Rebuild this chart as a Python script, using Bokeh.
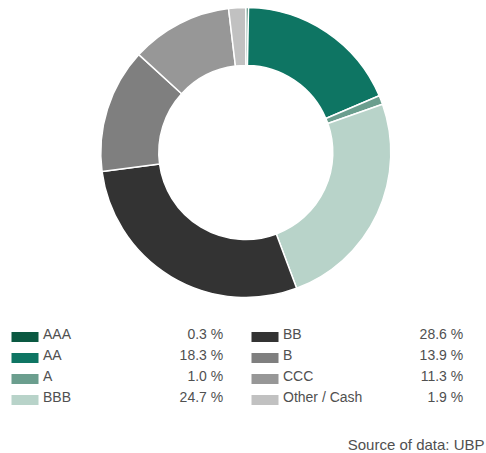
import math
from bokeh.plotting import figure
from bokeh.models import Range1d, ColumnDataSource
from bokeh.core.properties import value
from bokeh.embed import file_html
from bokeh.resources import INLINE

# ---- data ----
categories = ["AAA", "AA", "A", "BBB", "BB", "B", "CCC", "Other / Cash"]
shares = [0.3, 18.3, 1.0, 24.7, 28.6, 13.9, 11.3, 1.9]
colors = ["#0a5841", "#0e7563", "#6b9e8e", "#b8d3c9",
          "#333333", "#7f7f7f", "#979797", "#c1c1c1"]
source_note = "Source of data: UBP"

W, H = 486, 453
FONT = "Liberation Sans"
TXT = "#505050"

def ry(y):
    return H - y

p = figure(width=W, height=H, output_backend="svg", toolbar_location=None,
           x_range=Range1d(0, W), y_range=Range1d(0, H),
           min_border=0, outline_line_color=None)
p.axis.visible = False
p.grid.visible = False
p.background_fill_color = "white"

# ---- donut ----
total = sum(shares)
starts, ends = [], []
cum = 0.0
for v in shares:
    starts.append(math.pi / 2 - cum / total * 2 * math.pi)
    cum += v
    ends.append(math.pi / 2 - cum / total * 2 * math.pi)

src = ColumnDataSource(dict(start=starts, end=ends, color=colors))
p.annular_wedge(x=245.3, y=ry(152), inner_radius=87, outer_radius=145,
                start_angle="start", end_angle="end", direction="clock",
                inner_radius_units="screen", outer_radius_units="screen",
                fill_color="color", line_color="white", line_width=1.5,
                source=src)

# ---- legend ----
sw_x, sw_y = [], []
lx, ly, lt = [], [], []
vx, vy, vt = [], [], []
for i, (c, v) in enumerate(zip(categories, shares)):
    col, row = divmod(i, 4)
    x0 = 11 + col * 240
    mid = 333 + row * 21
    sw_x.append(x0 + 13.5)
    sw_y.append(ry(mid + 3.5))
    lx.append(x0 + 31.5)
    ly.append(ry(mid))
    lt.append(c)
    vx.append(x0 + 211.7)
    vy.append(ry(mid))
    vt.append(f"{v:.1f} %")

p.rect(x=sw_x, y=sw_y, width=27, height=10, fill_color=colors, line_color=None)
p.text(x=lx, y=ly, text=lt, text_font=value(FONT), text_font_size="14px",
       text_color=TXT, text_align="left", text_baseline="middle")
p.text(x=vx, y=vy, text=vt, text_font=value(FONT), text_font_size="14px",
       text_color=TXT, text_align="right", text_baseline="middle")

p.text(x=[484], y=[ry(444)], text=[source_note], text_font=value(FONT),
       text_font_size="15px", text_color=TXT, text_align="right",
       text_baseline="middle")

open("out.html", "w").write(file_html(p, INLINE))
